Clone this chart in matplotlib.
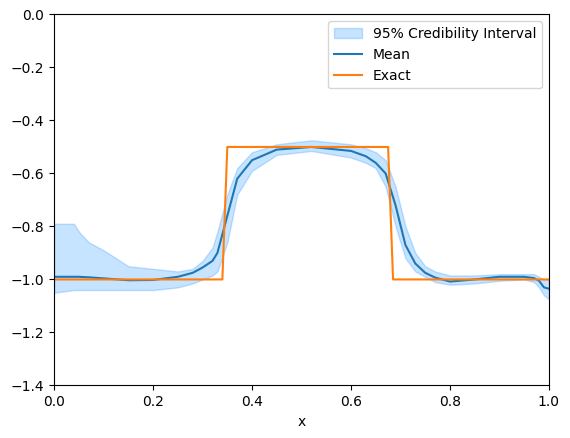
import matplotlib
matplotlib.use("Agg")
import matplotlib.pyplot as plt

x = [0.0,0.02,0.04,0.05,0.07,0.1,0.15,0.2,0.25,0.28,0.3,0.32,0.33,0.35,0.37,0.4,0.45,0.52,0.6,0.63,0.65,0.67,0.69,0.71,0.73,0.75,0.77,0.8,0.85,0.9,0.95,0.97,0.98,0.99,1.0]
mean = [-0.99,-0.99,-0.99,-0.99,-0.992,-0.996,-1.003,-1.002,-0.99,-0.975,-0.955,-0.93,-0.9,-0.76,-0.62,-0.55,-0.51,-0.50,-0.515,-0.535,-0.56,-0.6,-0.72,-0.87,-0.94,-0.975,-0.993,-1.008,-1.0,-0.99,-0.99,-0.995,-1.005,-1.03,-1.035]
upper = [-0.79,-0.79,-0.79,-0.82,-0.86,-0.89,-0.95,-0.96,-0.97,-0.96,-0.93,-0.88,-0.82,-0.68,-0.58,-0.52,-0.49,-0.475,-0.49,-0.505,-0.52,-0.55,-0.65,-0.8,-0.9,-0.95,-0.97,-0.985,-0.985,-0.98,-0.98,-0.98,-0.99,-1.0,-1.0]
lower = [-1.05,-1.045,-1.04,-1.04,-1.04,-1.04,-1.04,-1.04,-1.03,-1.015,-1.0,-0.985,-0.97,-0.86,-0.68,-0.59,-0.53,-0.515,-0.54,-0.56,-0.58,-0.65,-0.8,-0.92,-0.97,-0.99,-1.01,-1.02,-1.015,-1.005,-1.0,-1.01,-1.03,-1.06,-1.075]
exact_x = [0.0,0.34,0.35,0.675,0.685,1.0]
exact_y = [-1.0,-1.0,-0.5,-0.5,-1.0,-1.0]

fig, ax = plt.subplots(figsize=(5.7,4.38), dpi=100)
ax.fill_between(x, lower, upper, color='#1e90ff', alpha=0.25, label='95% Credibility Interval')
ax.plot(x, mean, color='#1f77b4', label='Mean')
ax.plot(exact_x, exact_y, color='#ff7f0e', label='Exact')
ax.set_xlim(0,1)
ax.set_ylim(-1.4,0)
ax.set_xlabel('x')
ax.legend(loc='upper right')
fig.subplots_adjust(left=0.095, right=0.963, top=0.967, bottom=0.12)
fig.savefig('out.png')
